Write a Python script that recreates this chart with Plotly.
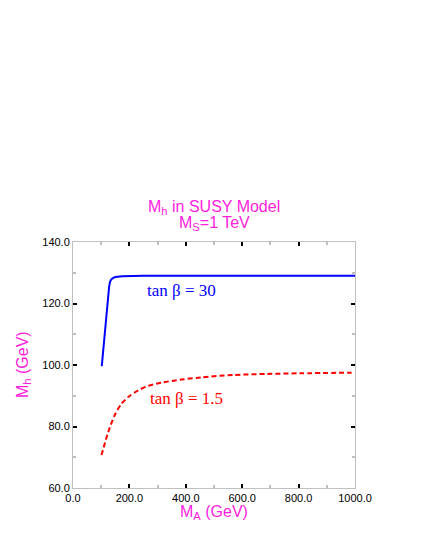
import plotly.graph_objects as go

# tan beta = 30 curve
ma_30 = [102, 108, 114, 122, 128, 131, 134, 140, 150, 175, 250, 400, 600, 800, 1000]
mh_30 = [99.6, 106.0, 112.4, 121.0, 125.4, 126.9, 127.6, 128.2, 128.6, 128.85, 129.0, 129.05, 129.05, 129.05, 129.05]

# tan beta = 1.5 curve
ma_15 = [101, 125, 149, 172, 196, 232, 267, 315, 385, 456, 568, 687, 805, 988]
mh_15 = [70.7, 78.2, 83.9, 87.4, 89.6, 91.8, 93.2, 94.3, 95.25, 96.0, 96.75, 97.1, 97.3, 97.5]

x_ticks = [0, 200, 400, 600, 800, 1000]
y_ticks = [60, 80, 100, 120, 140]

magenta = "#ff22dd"

fig = go.Figure()
fig.add_trace(go.Scatter(x=ma_30, y=mh_30, mode="lines", line=dict(color="#0000ff", width=2)))
fig.add_trace(go.Scatter(x=ma_15, y=mh_15, mode="lines",
                         line=dict(color="#ff0000", width=2, dash="5px,3px", shape="spline", smoothing=0.8)))

axis_style = dict(
    showline=True, linecolor="#c0c0c0", linewidth=1, mirror="allticks",
    ticks="inside", ticklen=4, tickwidth=2, tickcolor="black",
    showgrid=False, zeroline=False,
    tickfont=dict(family="Liberation Sans", size=11, color="black"),
    tickformat=".1f",
)

fig.update_xaxes(range=[0, 1000], tickvals=x_ticks,
                 minor=dict(ticks="inside", ticklen=3, tickcolor="#c0c0c0", dtick=100, tick0=0),
                 **axis_style)
fig.update_yaxes(range=[60, 140], tickvals=y_ticks,
                 minor=dict(ticks="inside", ticklen=3, tickcolor="#c0c0c0", dtick=10, tick0=60),
                 **axis_style)

ann_font = dict(family="Liberation Sans", size=16, color=magenta)
common = dict(xref="paper", yref="paper", showarrow=False, font=ann_font,
              xanchor="center", yanchor="middle")
fig.add_annotation(text="M<sub>h</sub> in SUSY Model", x=0.5, y=1, yshift=35, **common)
fig.add_annotation(text="M<sub>S</sub>=1 TeV", x=0.5, y=1, yshift=19, **common)
fig.add_annotation(text="M<sub>A</sub> (GeV)", x=0.5, y=0, yshift=-24, **common)
fig.add_annotation(text="M<sub>h</sub> (GeV)", x=0, y=0.5, xshift=-50, textangle=-90, **common)

fig.add_annotation(text="tan β = 30", x=384, y=124.3, showarrow=False,
                   font=dict(family="Liberation Serif", size=17, color="#0000ff"))
fig.add_annotation(text="tan β = 1.5", x=402, y=89.1, showarrow=False,
                   font=dict(family="Liberation Serif", size=17, color="#ff0000"))

# page body adds ~8px offset, so margins are shifted to compensate
fig.update_layout(
    width=428, height=554,
    margin=dict(l=65, r=81, t=234, b=74),
    plot_bgcolor="white", paper_bgcolor="white",
    showlegend=False,
)

fig.write_html("out.html")
